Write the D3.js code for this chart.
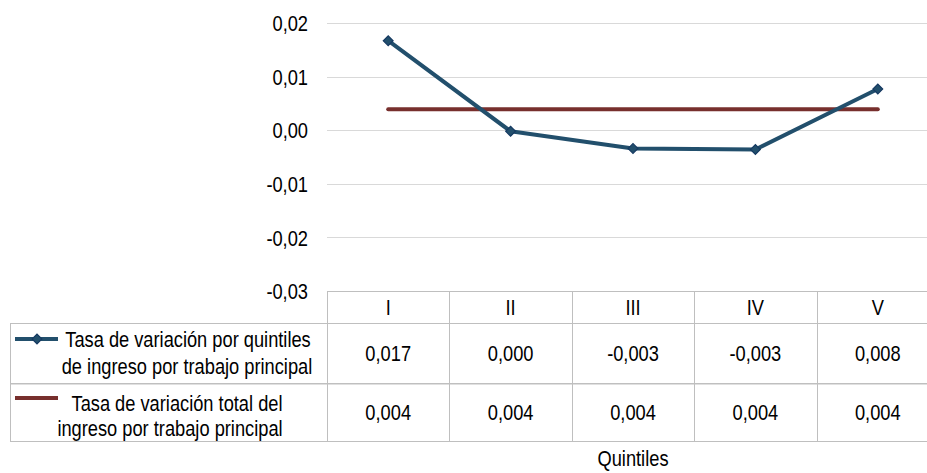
<!DOCTYPE html>
<html><head><meta charset="utf-8">
<script src="https://cdn.jsdelivr.net/npm/d3@7"></script>
<style>
html,body{margin:0;padding:0;background:#fff;}
svg{display:block;}
text{font-family:"Liberation Sans",Arial,sans-serif;fill:#000;}
</style></head><body>
<script>
const categories = ["I","II","III","IV","V"];
const seriesQuintiles = [0.0167, -0.0002, -0.0034, -0.0036, 0.0077];
const seriesTotal = [0.0039, 0.0039, 0.0039, 0.0039, 0.0039];
const tableQuintiles = ["0,017","0,000","-0,003","-0,003","0,008"];
const tableTotal = ["0,004","0,004","0,004","0,004","0,004"];
const yTicks = [0.02, 0.01, 0.00, -0.01, -0.02, -0.03];
const legendQuintiles = ["Tasa de variación por quintiles","de ingreso por trabajo principal"];
const legendTotal = ["Tasa de variación total del","ingreso por trabajo principal"];
const xTitle = "Quintiles";

(function(){
const W = 927, H = 473;
const pLeft = 327, pRight = 939, pTop = 23, pBottom = 291;
const blue = "#224F6C", blueMarker = "#163A62", red = "#772F2D";
const grid = "#d9d9d9", border = "#bfbfbf";
const fs = 22, SX = 0.83;

const svg = d3.select("body").append("svg").attr("width", W).attr("height", H);

const x = d3.scaleBand().domain(categories).range([pLeft, pRight]).padding(0);
const y = d3.scaleLinear().domain([-0.03, 0.02]).range([pBottom, pTop]);
const fmt = v => d3.format(".2f")(v).replace(".", ",").replace("−","-");
const tf = (tx, ty) => `translate(${tx},${ty}) scale(${SX},1)`;

// gridlines
svg.append("g").selectAll("line").data(yTicks.filter(t => t > -0.03)).join("line")
  .attr("x1", pLeft).attr("x2", pRight)
  .attr("y1", d => Math.round(y(d)) + 0.5).attr("y2", d => Math.round(y(d)) + 0.5)
  .attr("stroke", grid).attr("stroke-width", 1);

// y axis labels
const yAxis = d3.axisLeft(y).tickValues(yTicks).tickFormat(fmt).tickSize(0);
const ya = svg.append("g").attr("transform", `translate(${pLeft},0)`).call(yAxis);
ya.select(".domain").remove();
ya.attr("font-family", null).attr("font-size", null);
ya.selectAll("text").attr("x", null).attr("transform", tf(-19, 0))
  .attr("font-size", fs).attr("dy", "0.35em").attr("fill", "#000");

// table
const r0 = pBottom, r1 = 323, r2 = 383, r3 = 441;
const tb = svg.append("g").attr("stroke", border).attr("stroke-width", 1).attr("fill", "none");
const hl = (x1, x2, yy) => tb.append("line").attr("x1", x1).attr("x2", x2).attr("y1", yy + 0.5).attr("y2", yy + 0.5);
const vl = (xx, y1, y2) => tb.append("line").attr("x1", xx + 0.5).attr("x2", xx + 0.5).attr("y1", y1).attr("y2", y2);
hl(pLeft, pRight, r0);
hl(10, pRight, r1);
hl(10, pRight, r2);
tb.append("line").attr("x1", 10).attr("x2", pRight).attr("y1", r2 + 1.5).attr("y2", r2 + 1.5).attr("stroke", "#e0e0e0");
hl(10, pRight, r3);
vl(10, r1, r3 + 1);
categories.forEach(c => vl(Math.round(x(c)), r0, r3 + 1));

const cx = c => x(c) + x.bandwidth() / 2;
svg.append("g").selectAll("text").data(categories).join("text")
  .attr("transform", d => tf(cx(d), 307)).attr("dy", "0.35em")
  .attr("text-anchor", "middle").attr("font-size", fs).text(d => d);
svg.append("g").selectAll("text").data(tableQuintiles).join("text")
  .attr("transform", (d, i) => tf(cx(categories[i]), 353)).attr("dy", "0.35em")
  .attr("text-anchor", "middle").attr("font-size", fs).text(d => d);
svg.append("g").selectAll("text").data(tableTotal).join("text")
  .attr("transform", (d, i) => tf(cx(categories[i]), 412)).attr("dy", "0.35em")
  .attr("text-anchor", "middle").attr("font-size", fs).text(d => d);

// legend
const diamond = d3.symbol(d3.symbolSquare, 48)();
const lg1 = svg.append("g");
lg1.append("line").attr("x1", 15).attr("x2", 58).attr("y1", 339).attr("y2", 339)
  .attr("stroke", blue).attr("stroke-width", 4);
lg1.append("path").attr("d", diamond).attr("transform", "translate(37,339) rotate(45)")
  .attr("fill", blue).attr("stroke", blueMarker).attr("stroke-width", 1.2);
lg1.append("text").attr("transform", tf(188, 339)).attr("dy", "0.35em").attr("text-anchor", "middle").attr("font-size", fs).text(legendQuintiles[0]);
lg1.append("text").attr("transform", tf(187, 366)).attr("dy", "0.35em").attr("text-anchor", "middle").attr("font-size", fs).text(legendQuintiles[1]);

const lg2 = svg.append("g");
lg2.append("line").attr("x1", 15).attr("x2", 58).attr("y1", 398).attr("y2", 398)
  .attr("stroke", red).attr("stroke-width", 4);
lg2.append("text").attr("transform", tf(177, 403)).attr("dy", "0.35em").attr("text-anchor", "middle").attr("font-size", fs).text(legendTotal[0]);
lg2.append("text").attr("transform", tf(170, 428)).attr("dy", "0.35em").attr("text-anchor", "middle").attr("font-size", fs).text(legendTotal[1]);

// x title
svg.append("text").attr("transform", tf(633, 458)).attr("dy", "0.35em")
  .attr("text-anchor", "middle").attr("font-size", fs).text(xTitle);

// lines
const line = d3.line().x((d, i) => cx(categories[i])).y(d => y(d));
svg.append("path").datum(seriesTotal).attr("d", line).attr("fill", "none")
  .attr("stroke", red).attr("stroke-width", 4).attr("stroke-linecap", "round");
svg.append("path").datum(seriesQuintiles).attr("d", line).attr("fill", "none")
  .attr("stroke", blue).attr("stroke-width", 4).attr("stroke-linejoin", "round");
svg.append("g").selectAll("path").data(seriesQuintiles).join("path")
  .attr("d", diamond)
  .attr("transform", (d, i) => `translate(${cx(categories[i])},${y(d)}) rotate(45)`)
  .attr("fill", blue).attr("stroke", blueMarker).attr("stroke-width", 1.2);
})();
</script>
</body></html>
